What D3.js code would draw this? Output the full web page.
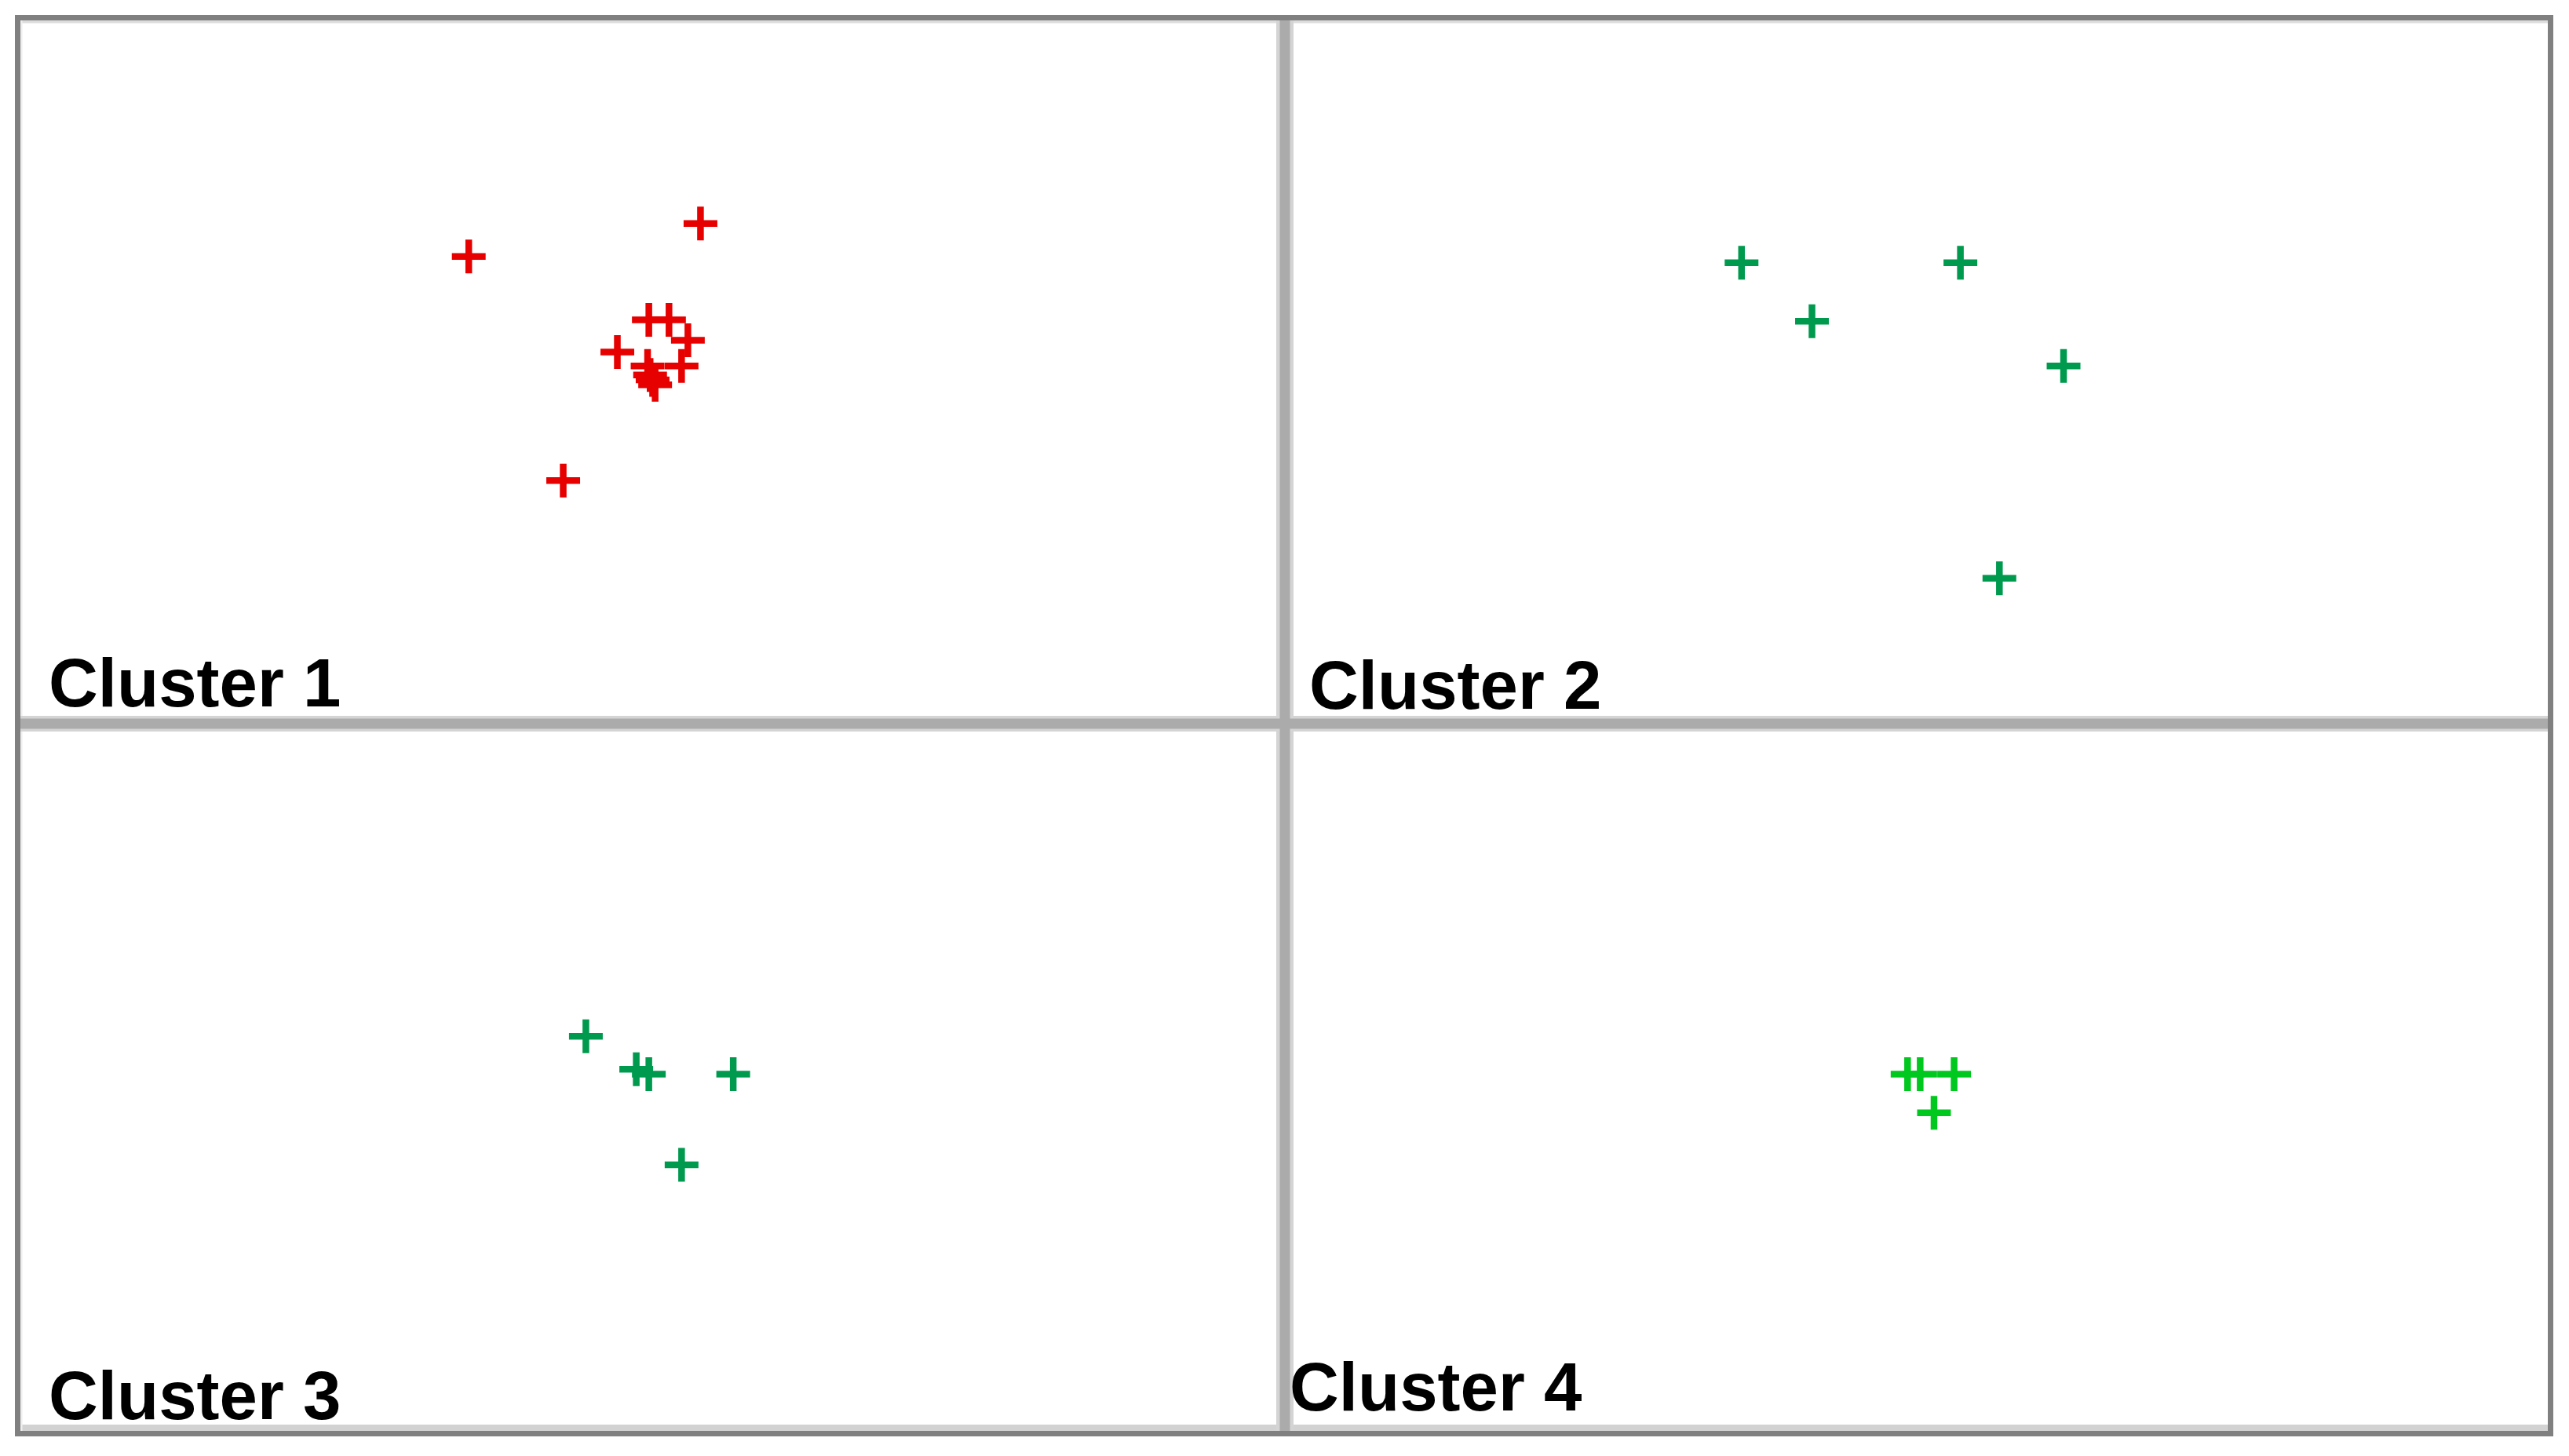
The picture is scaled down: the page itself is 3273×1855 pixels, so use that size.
<!DOCTYPE html>
<html>
<head>
<meta charset="utf-8">
<script src="https://cdn.jsdelivr.net/npm/d3@7"></script>
<style>
  html, body { margin: 0; padding: 0; background: #ffffff; }
  svg { display: block; }
</style>
</head>
<body>
<script>
// ---------------- DATA (panel coordinates, 0-100 on each axis, y upward) ----------------
const clusterNames = ["Cluster 1", "Cluster 2", "Cluster 3", "Cluster 4"];

const cluster1X = [35.6, 54.0, 49.9, 51.5, 53.0, 47.4, 49.8, 52.5, 50.0, 50.2, 50.4, 43.1];
const cluster1Y = [66.2, 70.9, 57.1, 57.1, 54.2, 52.5, 50.5, 50.5, 49.2, 48.5, 47.8, 34.1];

const cluster2X = [35.9, 53.3, 41.5, 61.5, 56.4];
const cluster2Y = [65.3, 65.3, 56.9, 50.5, 20.1];

const cluster3X = [44.9, 48.9, 49.9, 56.6, 52.5];
const cluster3Y = [56.2, 51.5, 50.8, 50.8, 37.9];

const cluster4X = [49.1, 50.1, 52.8, 51.2];
const cluster4Y = [50.8, 50.8, 50.8, 45.3];

const clusterColors = ["#e60000", "#009a4e", "#009a4e", "#00c81e"];

// ---------------- LAYOUT ----------------
const W = 3273, H = 1855;
const outer = { x0: 22.5, y0: 22.5, x1: 3249.5, y1: 1826.5 };
const divX = 1637, divY = 922;
const panels = [
  { x0: 26, x1: 1630.5, y0: 26, y1: 915.5, lx: 36, lb: 15.5 },
  { x0: 1643.5, x1: 3246, y0: 26, y1: 915.5, lx: 24.5, lb: 12.5 },
  { x0: 26, x1: 1630.5, y0: 928.5, y1: 1823, lx: 36, lb: 15 },
  { x0: 1643.5, x1: 3246, y0: 928.5, y1: 1823, lx: -0.5, lb: 26 }
];
const seriesX = [cluster1X, cluster2X, cluster3X, cluster4X];
const seriesY = [cluster1Y, cluster2Y, cluster3Y, cluster4Y];

const svg = d3.select("body").append("svg")
  .attr("width", W).attr("height", H)
  .attr("viewBox", `0 0 ${W} ${H}`);

svg.append("rect").attr("width", W).attr("height", H).attr("fill", "#ffffff");

// inner light shading lines near the frame
svg.append("rect").attr("x", 26).attr("y", 26).attr("width", 3220).attr("height", 3.5).attr("fill", "#dcdcdc");
svg.append("rect").attr("x", 26).attr("y", 1815).attr("width", 3220).attr("height", 8).attr("fill", "#d2d2d2");
svg.append("rect").attr("x", 26).attr("y", 26).attr("width", 2.5).attr("height", 1797).attr("fill", "#eeeeee");

// dividers
const divG = svg.append("g");
divG.append("line").attr("x1", divX).attr("x2", divX).attr("y1", 26).attr("y2", 1823)
  .attr("stroke", "#d4d4d4").attr("stroke-width", 22);
divG.append("line").attr("x1", 26).attr("x2", 3246).attr("y1", divY).attr("y2", divY)
  .attr("stroke", "#d4d4d4").attr("stroke-width", 20);
divG.append("line").attr("x1", divX).attr("x2", divX).attr("y1", 26).attr("y2", 1823)
  .attr("stroke", "#ababab").attr("stroke-width", 13);
divG.append("line").attr("x1", 26).attr("x2", 3246).attr("y1", divY).attr("y2", divY)
  .attr("stroke", "#ababab").attr("stroke-width", 13);

// outer frame
svg.append("rect")
  .attr("x", outer.x0).attr("y", outer.y0)
  .attr("width", outer.x1 - outer.x0).attr("height", outer.y1 - outer.y0)
  .attr("fill", "none").attr("stroke", "#808080").attr("stroke-width", 7);

// plus marker path
const half = 21.5;
const plusPath = `M${-half},0H${half}M0,${-half}V${half}`;

panels.forEach((p, i) => {
  const x = d3.scaleLinear().domain([0, 100]).range([p.x0, p.x1]);
  const y = d3.scaleLinear().domain([0, 100]).range([p.y1, p.y0]);
  const pts = seriesX[i].map((v, k) => ({ x: v, y: seriesY[i][k] }));
  const g = svg.append("g");
  g.selectAll("path.pt").data(pts).enter().append("path")
    .attr("class", "pt")
    .attr("d", plusPath)
    .attr("transform", d => `translate(${x(d.x)},${y(d.y)})`)
    .attr("fill", "none")
    .attr("stroke", clusterColors[i])
    .attr("stroke-width", 8.5);

  g.append("text")
    .attr("x", p.x0 + p.lx)
    .attr("y", p.y1 - p.lb)
    .attr("font-family", "'Liberation Sans', Arial, sans-serif")
    .attr("font-weight", "bold")
    .attr("font-size", 87)
    .attr("fill", "#000000")
    .text(clusterNames[i]);
});
</script>
</body>
</html>
